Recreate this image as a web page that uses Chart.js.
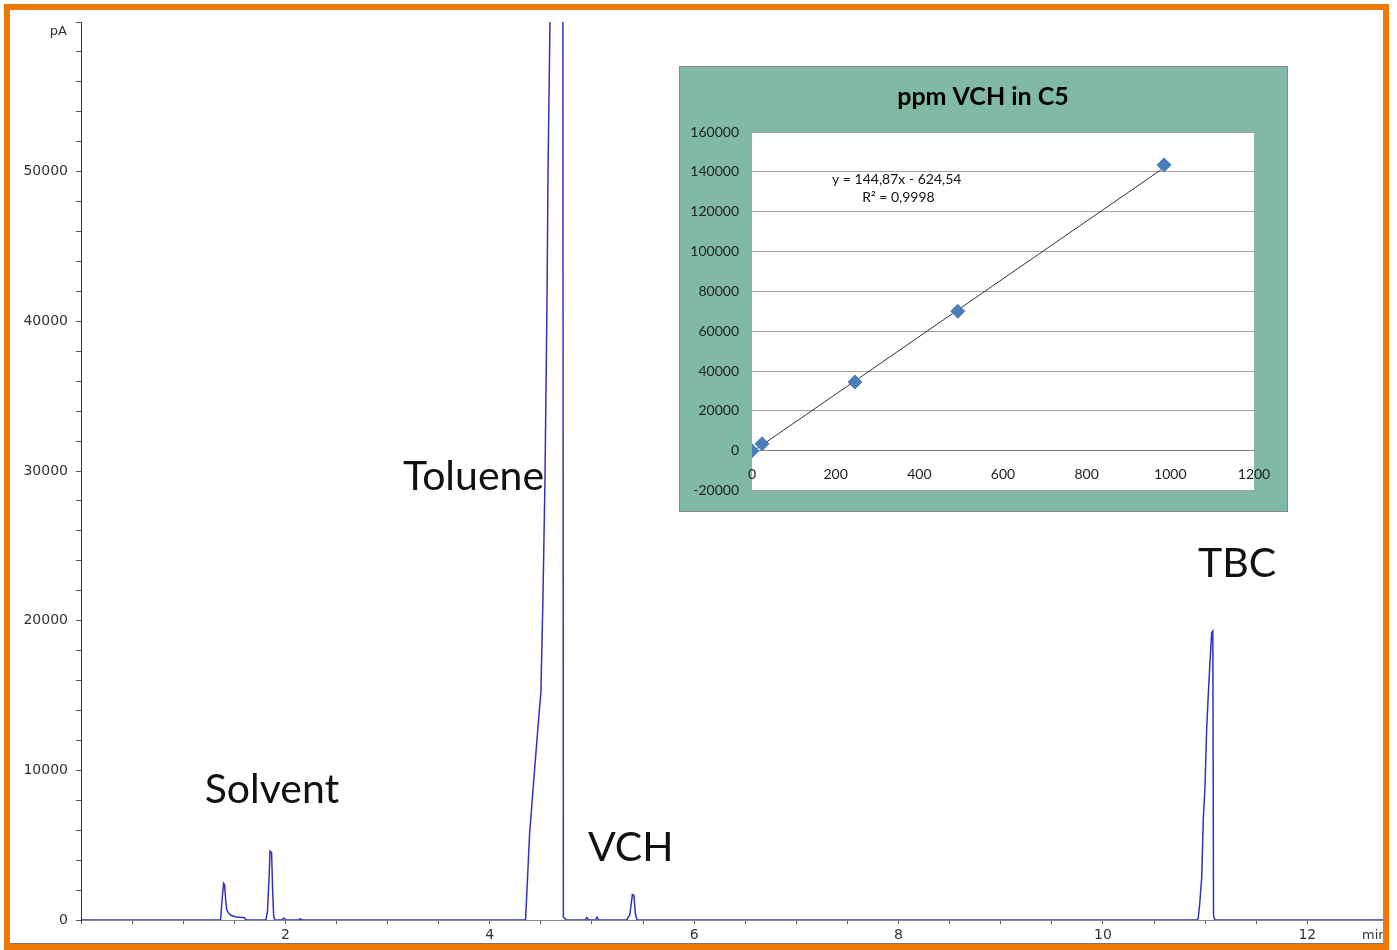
<!DOCTYPE html>
<html>
<head>
<meta charset="utf-8">
<script src="https://cdn.jsdelivr.net/npm/chart.js@4.4.1/dist/chart.umd.min.js"></script>
<style>
  body { margin: 0; background: #fff; }
  #wrap { position: relative; width: 1397px; height: 950px; overflow: hidden; }
  #chrom { position: absolute; left: 0; top: 0; }
  #calib { position: absolute; left: 679px; top: 66px; background: #80baa6; }
  #frame { position: absolute; left: 4px; top: 4px; width: 1385px; height: 946px; box-sizing: border-box;
           border: 6px solid #ee7a05; box-shadow: inset 0 -1px 0 #777; pointer-events: none; }
</style>
</head>
<body>
<div id="wrap">
  <canvas id="chrom" width="1397" height="950"></canvas>
  <canvas id="calib" width="609" height="446"></canvas>
  <div id="frame"></div>
</div>
<script>
// chromatogram trace: retention time (min) and detector signal (pA)
const retTime = [
  0, 1.365, 1.38, 1.395, 1.405, 1.415, 1.425, 1.445, 1.47, 1.52, 1.58, 1.60, 1.615,
  1.81, 1.825, 1.84, 1.85, 1.865, 1.875, 1.885, 1.895,
  1.965, 1.985, 2.005, 2.13, 2.145, 2.16,
  4.35, 4.39, 4.44, 4.48, 4.50, 4.52, 4.54, 4.56, 4.57, 4.59, 4.62, 4.70, 4.713, 4.72, 4.735, 4.75,
  4.935, 4.95, 4.965, 5.035, 5.05, 5.065,
  5.34, 5.37, 5.395, 5.41, 5.425, 5.44,
  10.92, 10.932, 10.949, 10.966, 10.982, 10.998, 11.015, 11.031, 11.047, 11.064, 11.075, 11.082, 11.095,
  12.75
];
const signalPA = [
  0, 0, 1300, 2450, 2350, 1400, 700, 450, 300, 200, 170, 150, 0,
  0, 600, 2800, 4600, 4500, 2000, 300, 0,
  0, 130, 0, 0, 90, 0,
  0, 5800, 10200, 13600, 15200, 21400, 29400, 41400, 50100, 60500, 95000, 95000, 90000, 200, 100, 0,
  0, 160, 0, 0, 180, 0,
  0, 350, 1700, 1650, 400, 0,
  0, 100, 1270, 2800, 6800, 8800, 12800, 15100, 17200, 19200, 19300, 300, 0,
  0
];

// peak names and where they sit (min, pA)
const peakNames = ["Solvent", "Toluene", "VCH", "TBC"];
const peakLabelX = [1.21, 3.15, 4.96, 10.93];
const peakLabelY = [7800, 28700, 3950, 22900];

// calibration inset: ppm VCH vs area
const calibPpm = [0, 24, 246, 492, 985];
const calibArea = [0, 3500, 34500, 70000, 143500];
const trendPpm = [0, 985];
const trendArea = [-600, 142100];
const equationLines = ["y = 144,87x - 624,54", "R² = 0,9998"];
const equationX = [346, 350];
const equationY = [136000, 127000];

const tickFont = { family: "'DejaVu Sans', sans-serif", size: 14 };

// texte sur le chromatogramme
const chromText = {
  id: "chromText",
  afterDatasetsDraw(chart) {
    const { ctx, scales: { x, y } } = chart;
    ctx.save();
    ctx.fillStyle = "#111";
    ctx.font = "41px Lato, sans-serif";
    ctx.textBaseline = "alphabetic";
    peakNames.forEach((name, i) => {
      ctx.fillText(name, x.getPixelForValue(peakLabelX[i]), y.getPixelForValue(peakLabelY[i]));
    });
    ctx.font = "13px 'DejaVu Sans', sans-serif";
    ctx.fillStyle = "#333";
    ctx.textBaseline = "middle";
    ctx.textAlign = "right";
    ctx.fillText("pA", 67, 32);
    ctx.textAlign = "left";
    ctx.fillText("min", 1362, 936);
    ctx.restore();
  },
};

new Chart(document.querySelector("#chrom"), {
  type: "line",
  data: {
    datasets: [{
      data: retTime.map((t, i) => ({ x: t, y: signalPA[i] })),
      borderColor: "#3232bc",
      borderWidth: 1.5,
      pointRadius: 0,
      tension: 0,
      fill: false,
    }],
  },
  options: {
    animation: false,
    responsive: false,
    devicePixelRatio: 1,
    layout: { padding: { top: 22, right: 13, left: 0, bottom: 0 } },
    plugins: { legend: { display: false }, tooltip: { enabled: false } },
    scales: {
      x: {
        type: "linear",
        min: 0,
        max: 12.75,
        afterFit: (s) => { s.height = 30; },
        grid: {
          drawOnChartArea: false,
          tickLength: 4,
          tickColor: (c) => (c.tick && c.tick.value % 0.5 === 0 ? "#555" : "rgba(0,0,0,0)"),
        },
        border: { color: "#888" },
        ticks: {
          stepSize: 0.5,
          autoSkip: false,
          maxRotation: 0,
          padding: 3,
          color: "#333",
          font: tickFont,
          callback: (v) => (v > 0 && v % 2 === 0 ? String(v) : ""),
        },
      },
      y: {
        min: 0,
        max: 60000,
        afterFit: (s) => { s.width = 81; },
        grid: { drawOnChartArea: false, tickLength: 5, tickColor: "#555" },
        border: { color: "#333" },
        ticks: {
          stepSize: 2000,
          autoSkip: false,
          padding: 8,
          color: "#333",
          font: tickFont,
          callback: (v) => (v % 10000 === 0 && v < 60000 ? String(v) : ""),
        },
      },
    },
  },
  plugins: [chromText],
});

// inset: fond blanc, titre, equation
const calibDeco = {
  id: "calibDeco",
  beforeDraw(chart) {
    const { ctx, chartArea: a, width, height } = chart;
    ctx.save();
    ctx.fillStyle = "#fff";
    ctx.fillRect(a.left, a.top, a.right - a.left, a.bottom - a.top);
    ctx.strokeStyle = "#888";
    ctx.lineWidth = 1;
    ctx.strokeRect(0.5, 0.5, width - 1, height - 1);
    ctx.fillStyle = "#000";
    ctx.font = "bold 25px Lato, sans-serif";
    ctx.textAlign = "center";
    ctx.textBaseline = "middle";
    ctx.fillText("ppm VCH in C5", 304, 31);
    ctx.restore();
  },
  afterDatasetsDraw(chart) {
    const { ctx, scales: { x, y } } = chart;
    ctx.save();
    ctx.fillStyle = "#111";
    ctx.font = "14px Lato, sans-serif";
    ctx.textAlign = "center";
    ctx.textBaseline = "middle";
    equationLines.forEach((t, i) => {
      ctx.fillText(t, x.getPixelForValue(equationX[i]), y.getPixelForValue(equationY[i]));
    });
    ctx.restore();
  },
};

const insetFont = { family: "Lato, sans-serif", size: 14 };

new Chart(document.querySelector("#calib"), {
  type: "scatter",
  data: {
    datasets: [
      {
        data: calibPpm.map((p, i) => ({ x: p, y: calibArea[i] })),
        pointStyle: "rectRot",
        pointRadius: 7,
        backgroundColor: "#4a7ebb",
        borderColor: "#4a7ebb",
        order: 0,
      },
      {
        type: "line",
        data: trendPpm.map((p, i) => ({ x: p, y: trendArea[i] })),
        borderColor: "#333",
        borderWidth: 1,
        pointRadius: 0,
        order: 1,
      },
    ],
  },
  options: {
    animation: false,
    responsive: false,
    devicePixelRatio: 1,
    layout: { padding: { top: 66, right: 34, bottom: 18, left: 0 } },
    plugins: { legend: { display: false }, tooltip: { enabled: false } },
    scales: {
      x: {
        type: "linear",
        position: { y: 0 },
        min: 0,
        max: 1200,
        afterFit: (s) => { s.height = 0; },
        grid: { display: false, drawTicks: false },
        border: { color: "#808080" },
        ticks: { stepSize: 200, padding: 15, maxRotation: 0, color: "#222", font: insetFont,
                 callback: (v) => String(v) },
      },
      y: {
        min: -20000,
        max: 160000,
        afterFit: (s) => { s.width = 73; },
        grid: { color: "#a0a0a0", drawTicks: false },
        border: { display: false },
        ticks: { stepSize: 20000, padding: 13, color: "#222", font: insetFont,
                 callback: (v) => String(v) },
      },
    },
  },
  plugins: [calibDeco],
});
</script>
</body>
</html>
